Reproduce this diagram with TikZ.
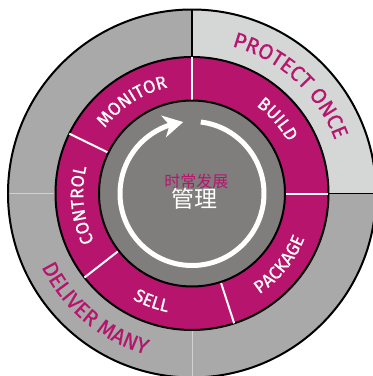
\documentclass[tikz,border=0pt]{standalone}
\usepackage{fontspec}
\setsansfont{Fira Sans}[FakeBold=0.6]
\newfontfamily\cjkfont{Noto Sans CJK SC}
\usetikzlibrary{arrows.meta,bending,decorations.text}
\definecolor{magent}{RGB}{183,20,110}
\definecolor{outgray}{RGB}{168,169,168}
\definecolor{litegray}{RGB}{213,214,214}
\definecolor{ingray}{RGB}{127,126,125}

\begin{document}
\begin{tikzpicture}[x=1pt,y=1pt,
    ring/.style={draw=black,line width=2pt},
    sep/.style={white,line width=2pt},
    faint/.style={draw=gray!35,line width=0.8pt},
    inlbl/.style={decorate,decoration={text along path,text align=center,text color=white,text={|\sffamily\fontsize{18}{18}\selectfont|#1}}},
    outlbl/.style={decorate,decoration={text along path,text align=center,text color=magent,text={|\sffamily\fontsize{21.5}{21.5}\selectfont|#1}}}]
  \useasboundingbox (-192,-182.5) rectangle (181,193.5);
  \clip (-192,-182.5) rectangle (181,193.5);

  \fill[outgray] (0,0) circle[radius=184];
  \fill[litegray] (0,0) -- (0:184) arc[start angle=0,end angle=90,radius=184] -- cycle;
  \draw[faint] (180:136) -- (180:184);
  \draw[faint] (270:136) -- (270:184);
  \draw[line width=1.5pt] (0:136) -- (0:184);
  \draw[line width=1.5pt] (90:136) -- (90:184);
  \draw[ring] (0,0) circle[radius=184];

  \filldraw[ring,fill=magent] (0,0) circle[radius=136.5];
  \foreach \a in {0,90,154,218,288}
    \draw[sep] (\a:93) -- (\a:136.5);
  \filldraw[ring,fill=ingray] (0,0) circle[radius=93];

  \draw[white,line width=5pt,-{Stealth[length=20pt,width=22pt,inset=6pt]}] (83:72) arc[start angle=83,end angle=-263,radius=72];

  \path[inlbl=MONITOR] (163:108.8) arc[start angle=163,end angle=83,radius=108.8];
  \path[inlbl=BUILD] (81:108.8) arc[start angle=81,end angle=1,radius=108.8];
  \path[inlbl=CONTROL] (226:108.8) arc[start angle=226,end angle=146,radius=108.8];
  \path[inlbl=SELL] (209.5:121.2) arc[start angle=209.5,end angle=289.5,radius=121.2];
  \path[inlbl=PACKAGE] (-79:121.2) arc[start angle=-79,end angle=1,radius=121.2];
  \path[outlbl=PROTECT ONCE] (97.6:152.6) arc[start angle=97.6,end angle=-2.4,radius=152.6];
  \path[outlbl=DELIVER MANY] (180:167.4) arc[start angle=180,end angle=280,radius=167.4];

  \node[text=magent,font=\cjkfont\fontsize{16}{16}\selectfont] (sub) at (4.5,12.5) {时常发展};
  \node[text=white,font=\cjkfont\fontsize{23}{23}\selectfont] (main) at (2.5,-5.5) {管理};
\end{tikzpicture}
\end{document}
